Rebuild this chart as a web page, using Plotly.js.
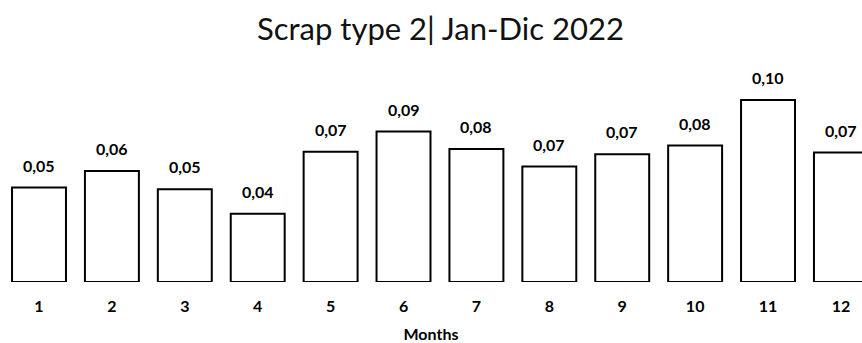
<!DOCTYPE html>
<html>
<head>
<meta charset="utf-8">
<script src="https://cdn.plot.ly/plotly-3.0.1.min.js"></script>
<style>
  html, body { margin: 0; padding: 0; background: #ffffff; }
  #chart { width: 862px; height: 343px; }
</style>
</head>
<body>
<div id="chart"></div>
<script>
// Monthly scrap rate, type 2, January to December 2022
const months = [1, 2, 3, 4, 5, 6, 7, 8, 9, 10, 11, 12];
const scrapRate = [0.054, 0.0635, 0.053, 0.039, 0.0744, 0.086, 0.076, 0.066, 0.073, 0.078, 0.104, 0.074];

const fmt = v => v.toFixed(2).replace('.', ',');

const labelFont = { family: 'Lato, sans-serif', size: 16, color: '#000000', weight: 700 };

const trace = {
  type: 'bar',
  x: months,
  y: scrapRate,
  width: 0.74,
  marker: { color: '#ffffff', line: { color: '#000000', width: 2 } },
  hoverinfo: 'skip'
};

// value labels sitting above each bar
const labels = months.map((m, i) => ({
  x: m,
  y: scrapRate[i],
  xref: 'x',
  yref: 'y',
  text: fmt(scrapRate[i]),
  showarrow: false,
  yanchor: 'bottom',
  yshift: 11,
  font: labelFont
}));

const layout = {
  width: 862,
  height: 343,
  margin: { l: 0, r: 0, t: 60, b: 61 },
  paper_bgcolor: '#ffffff',
  plot_bgcolor: '#ffffff',
  showlegend: false,
  title: {
    text: 'Scrap type 2| Jan-Dic 2022',
    x: 0.511,
    xanchor: 'center',
    y: 0.915,
    yanchor: 'middle',
    font: { family: 'Lato, sans-serif', size: 31, color: '#111111' }
  },
  xaxis: {
    type: 'linear',
    range: [0.465, 12.289],
    tickmode: 'array',
    tickvals: months,
    ticktext: months.map(String),
    showgrid: false,
    zeroline: false,
    showline: false,
    ticks: '',
    ticklabelstandoff: 13,
    tickfont: labelFont,
    title: {
      text: 'Months',
      standoff: 16,
      font: { family: 'Lato, sans-serif', size: 16, color: '#000000', weight: 700 }
    }
  },
  yaxis: {
    range: [0, 0.1269],
    visible: false,
    showgrid: false,
    zeroline: false
  },
  annotations: labels
};

Plotly.newPlot('chart', [trace], layout, { staticPlot: true, displayModeBar: false });
</script>
</body>
</html>
